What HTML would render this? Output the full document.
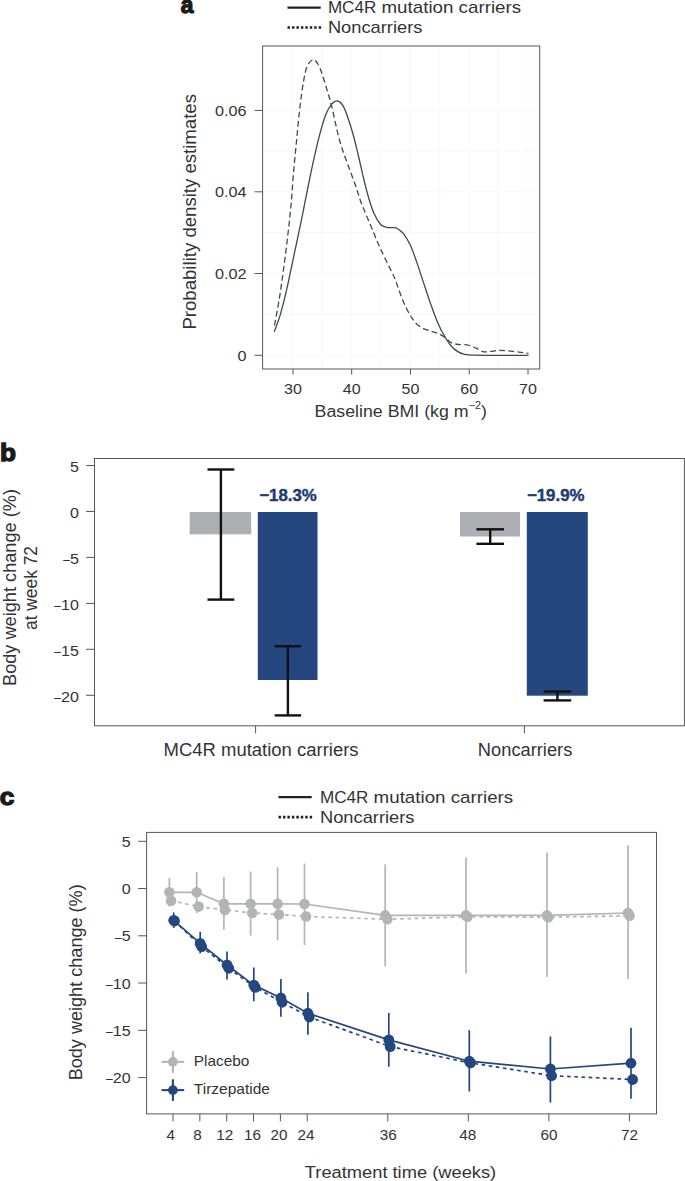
<!DOCTYPE html>
<html lang="en">
<head>
<meta charset="utf-8">
<title>Figure</title>
<style>
html,body{margin:0;padding:0;background:#ffffff;}
body{width:685px;height:1181px;overflow:hidden;font-family:"Liberation Sans",sans-serif;}
svg{display:block;}
svg text{font-family:"Liberation Sans",sans-serif;}
</style>
</head>
<body>
<svg width="685" height="1181" viewBox="0 0 685 1181">
<rect x="0" y="0" width="685" height="1181" fill="#ffffff"/>
<text transform="translate(180.7,13.4) scale(0.93,1)" font-size="24.5" font-weight="bold" fill="#1a1a1a" stroke="#1a1a1a" stroke-width="1.3" stroke-linejoin="miter">a</text>
<text transform="translate(0.0,460.6) scale(1.07,1)" font-size="24.5" font-weight="bold" fill="#1a1a1a" stroke="#1a1a1a" stroke-width="1.3" stroke-linejoin="miter">b</text>
<text transform="translate(-0.3,805.2) scale(1.07,1)" font-size="24.5" font-weight="bold" fill="#1a1a1a" stroke="#1a1a1a" stroke-width="1.3" stroke-linejoin="miter">c</text>
<line x1="287.5" y1="7.6" x2="320.7" y2="7.6" stroke="#222" stroke-width="2.4"/>
<line x1="287.5" y1="27.5" x2="321.2" y2="27.5" stroke="#222" stroke-width="2.6" stroke-dasharray="2.5 1.95"/>
<text x="327.9" y="12.6" font-size="17" text-anchor="start" font-weight="normal" fill="#333333" textLength="48.4" lengthAdjust="spacingAndGlyphs">MC4R</text>
<text x="381.5" y="12.6" font-size="17" text-anchor="start" font-weight="normal" fill="#333333" textLength="139.6" lengthAdjust="spacingAndGlyphs">mutation carriers</text>
<text x="327.9" y="33.0" font-size="17" text-anchor="start" font-weight="normal" fill="#333333" textLength="94.5" lengthAdjust="spacingAndGlyphs">Noncarriers</text>
<line x1="278.5" y1="797.1" x2="311.7" y2="797.1" stroke="#222" stroke-width="2.4"/>
<line x1="278.5" y1="817.1" x2="312.2" y2="817.1" stroke="#222" stroke-width="2.6" stroke-dasharray="2.5 1.95"/>
<text x="320.0" y="802.8" font-size="17" text-anchor="start" font-weight="normal" fill="#333333" textLength="48.4" lengthAdjust="spacingAndGlyphs">MC4R</text>
<text x="373.6" y="802.8" font-size="17" text-anchor="start" font-weight="normal" fill="#333333" textLength="139.6" lengthAdjust="spacingAndGlyphs">mutation carriers</text>
<text x="320.0" y="822.9" font-size="17" text-anchor="start" font-weight="normal" fill="#333333" textLength="94.5" lengthAdjust="spacingAndGlyphs">Noncarriers</text>
<rect x="262.6" y="46" width="277.1" height="323" fill="none" stroke="#575757" stroke-width="1"/>
<line x1="263.6" y1="110.4" x2="538.7" y2="110.4" stroke="#f7f7f7" stroke-width="1"/>
<line x1="263.6" y1="151.1" x2="538.7" y2="151.1" stroke="#f7f7f7" stroke-width="1"/>
<line x1="263.6" y1="191.8" x2="538.7" y2="191.8" stroke="#f7f7f7" stroke-width="1"/>
<line x1="263.6" y1="232.6" x2="538.7" y2="232.6" stroke="#f7f7f7" stroke-width="1"/>
<line x1="263.6" y1="273.5" x2="538.7" y2="273.5" stroke="#f7f7f7" stroke-width="1"/>
<line x1="263.6" y1="314.4" x2="538.7" y2="314.4" stroke="#f7f7f7" stroke-width="1"/>
<line x1="263.6" y1="355.3" x2="538.7" y2="355.3" stroke="#f7f7f7" stroke-width="1"/>
<line x1="293.0" y1="47" x2="293.0" y2="368" stroke="#f7f7f7" stroke-width="1"/>
<line x1="322.4" y1="47" x2="322.4" y2="368" stroke="#f7f7f7" stroke-width="1"/>
<line x1="351.7" y1="47" x2="351.7" y2="368" stroke="#f7f7f7" stroke-width="1"/>
<line x1="381.1" y1="47" x2="381.1" y2="368" stroke="#f7f7f7" stroke-width="1"/>
<line x1="410.5" y1="47" x2="410.5" y2="368" stroke="#f7f7f7" stroke-width="1"/>
<line x1="439.8" y1="47" x2="439.8" y2="368" stroke="#f7f7f7" stroke-width="1"/>
<line x1="469.2" y1="47" x2="469.2" y2="368" stroke="#f7f7f7" stroke-width="1"/>
<line x1="498.6" y1="47" x2="498.6" y2="368" stroke="#f7f7f7" stroke-width="1"/>
<line x1="528.0" y1="47" x2="528.0" y2="368" stroke="#f7f7f7" stroke-width="1"/>
<line x1="254.60000000000002" y1="110.4" x2="262.6" y2="110.4" stroke="#575757" stroke-width="1"/>
<text transform="translate(246.60000000000002,115.85) scale(1.06,1)" font-size="15.3" text-anchor="end" font-weight="normal" fill="#333333">0.06</text>
<line x1="254.60000000000002" y1="191.8" x2="262.6" y2="191.8" stroke="#575757" stroke-width="1"/>
<text transform="translate(246.60000000000002,197.25) scale(1.06,1)" font-size="15.3" text-anchor="end" font-weight="normal" fill="#333333">0.04</text>
<line x1="254.60000000000002" y1="273.5" x2="262.6" y2="273.5" stroke="#575757" stroke-width="1"/>
<text transform="translate(246.60000000000002,278.95) scale(1.06,1)" font-size="15.3" text-anchor="end" font-weight="normal" fill="#333333">0.02</text>
<line x1="254.60000000000002" y1="355.3" x2="262.6" y2="355.3" stroke="#575757" stroke-width="1"/>
<text transform="translate(246.60000000000002,360.75) scale(1.06,1)" font-size="15.3" text-anchor="end" font-weight="normal" fill="#333333">0</text>
<line x1="293.0" y1="369" x2="293.0" y2="374.6" stroke="#575757" stroke-width="1"/>
<text transform="translate(293.0,393.8) scale(1.05,1)" font-size="15.3" text-anchor="middle" font-weight="normal" fill="#333333">30</text>
<line x1="351.7" y1="369" x2="351.7" y2="374.6" stroke="#575757" stroke-width="1"/>
<text transform="translate(351.7,393.8) scale(1.05,1)" font-size="15.3" text-anchor="middle" font-weight="normal" fill="#333333">40</text>
<line x1="410.5" y1="369" x2="410.5" y2="374.6" stroke="#575757" stroke-width="1"/>
<text transform="translate(410.5,393.8) scale(1.05,1)" font-size="15.3" text-anchor="middle" font-weight="normal" fill="#333333">50</text>
<line x1="469.2" y1="369" x2="469.2" y2="374.6" stroke="#575757" stroke-width="1"/>
<text transform="translate(469.2,393.8) scale(1.05,1)" font-size="15.3" text-anchor="middle" font-weight="normal" fill="#333333">60</text>
<line x1="528.0" y1="369" x2="528.0" y2="374.6" stroke="#575757" stroke-width="1"/>
<text transform="translate(528.0,393.8) scale(1.05,1)" font-size="15.3" text-anchor="middle" font-weight="normal" fill="#333333">70</text>
<text x="314.6" y="417" font-size="17.2" fill="#333333" textLength="172.3" lengthAdjust="spacingAndGlyphs">Baseline BMI (kg m<tspan font-size="10.5" dy="-8.3">−2</tspan><tspan dy="8.3">)</tspan></text>
<text transform="translate(195.7,211.8) rotate(-90)" font-size="18" text-anchor="middle" fill="#333333" textLength="235.5" lengthAdjust="spacingAndGlyphs">Probability density estimates</text>
<path d="M274.3,331.8 C275.3,328.9 278.3,321.4 280.4,314.4 C282.4,307.4 284.6,298.8 286.6,289.9 C288.7,281.0 290.7,270.8 292.7,261.3 C294.7,251.8 297.0,241.3 298.8,232.7 C300.6,224.1 302.0,217.2 303.5,209.6 C305.0,202.0 306.3,195.4 308.0,187.2 C309.7,179.0 311.6,169.1 313.5,160.6 C315.4,152.1 317.3,143.6 319.3,136.1 C321.3,128.6 323.4,120.9 325.4,115.6 C327.4,110.3 329.5,106.9 331.5,104.4 C333.5,102.0 335.4,100.7 337.3,100.9 C339.2,101.1 341.0,102.6 342.8,105.4 C344.6,108.2 346.2,112.9 347.9,117.7 C349.6,122.5 351.3,127.9 353.0,134.0 C354.7,140.1 356.2,146.7 358.1,154.5 C360.0,162.3 362.3,173.4 364.2,181.0 C366.1,188.6 367.6,194.4 369.3,200.0 C371.0,205.6 372.5,210.2 374.4,214.3 C376.3,218.4 378.6,222.3 380.6,224.5 C382.7,226.7 384.7,226.9 386.7,227.4 C388.7,227.9 391.1,227.4 392.8,227.6 C394.5,227.8 395.0,227.2 396.8,228.3 C398.6,229.4 401.3,231.1 403.6,233.9 C405.9,236.7 408.1,240.4 410.4,245.3 C412.7,250.2 414.9,257.0 417.2,263.4 C419.4,269.8 421.6,276.9 423.9,283.7 C426.1,290.5 428.4,297.7 430.7,304.1 C433.0,310.5 435.2,316.9 437.5,322.2 C439.8,327.5 442.0,331.8 444.3,335.8 C446.6,339.8 448.8,343.4 451.1,346.0 C453.4,348.6 455.6,350.2 457.9,351.6 C460.2,353.0 462.1,353.7 464.7,354.3 C467.3,354.9 467.8,355.0 473.7,355.2 C479.6,355.4 490.9,355.3 500.0,355.3 C509.1,355.3 523.8,355.3 528.5,355.3" fill="none" stroke="#41474e" stroke-width="1.3"/>
<path d="M274.5,325.5 C275.3,320.9 277.9,307.4 279.4,298.1 C280.9,288.8 282.1,279.7 283.5,269.5 C284.9,259.3 286.4,247.6 287.6,236.8 C288.9,226.1 290.0,216.0 291.0,205.0 C292.0,194.0 292.7,182.0 293.7,170.8 C294.7,159.7 295.8,148.7 296.8,138.1 C297.8,127.5 298.8,116.6 299.9,107.4 C301.0,98.2 302.1,89.7 303.3,82.9 C304.5,76.1 305.4,70.4 307.0,66.6 C308.6,62.7 311.2,60.1 313.1,59.8 C315.0,59.4 316.7,62.0 318.2,64.5 C319.7,67.0 320.8,70.3 322.3,74.7 C323.8,79.1 325.9,86.0 327.4,91.1 C328.9,96.2 330.1,100.0 331.5,105.4 C332.9,110.9 334.1,117.3 335.6,123.8 C337.1,130.3 338.6,137.4 340.7,144.2 C342.8,151.0 345.3,157.5 347.9,164.7 C350.5,171.9 354.0,181.1 356.1,187.2 C358.2,193.3 359.0,196.7 360.6,201.2 C362.2,205.7 364.0,209.7 365.9,214.2 C367.8,218.7 369.9,223.7 371.9,228.4 C373.9,233.2 375.8,238.1 377.8,242.7 C379.8,247.2 381.7,251.5 383.7,255.7 C385.7,259.9 387.8,264.0 389.6,267.6 C391.4,271.2 393.0,274.3 394.4,277.5 C395.8,280.7 396.5,283.2 397.9,287.0 C399.3,290.8 401.1,296.3 402.7,300.2 C404.3,304.1 405.8,307.2 407.4,310.2 C409.0,313.2 410.5,316.0 412.1,318.3 C413.7,320.6 414.9,322.4 416.9,324.2 C418.9,325.9 421.6,327.6 424.0,328.8 C426.4,330.0 428.9,330.5 431.1,331.2 C433.4,331.9 435.3,332.2 437.5,333.2 C439.7,334.1 442.0,335.3 444.3,336.9 C446.6,338.5 448.8,341.4 451.1,342.6 C453.4,343.9 455.3,344.0 457.9,344.4 C460.5,344.8 463.9,344.2 466.9,344.8 C469.9,345.4 473.4,347.1 476.0,348.2 C478.6,349.3 480.5,351.0 482.8,351.6 C485.1,352.2 487.0,351.8 489.6,351.6 C492.2,351.4 495.6,350.6 498.6,350.5 C501.6,350.4 504.3,350.6 507.7,350.9 C511.1,351.2 515.5,351.7 519.0,352.1 C522.5,352.5 526.9,353.2 528.5,353.4" fill="none" stroke="#41474e" stroke-width="1.3" stroke-dasharray="5.8 3.3"/>
<rect x="94.5" y="458.5" width="589.9" height="267.29999999999995" fill="none" stroke="#575757" stroke-width="1"/>
<line x1="86.1" y1="465.5" x2="94.5" y2="465.5" stroke="#575757" stroke-width="1"/>
<text transform="translate(78.9,471.8) scale(1.05,1)" font-size="15.3" text-anchor="end" font-weight="normal" fill="#333333">5</text>
<line x1="86.1" y1="511.5" x2="94.5" y2="511.5" stroke="#575757" stroke-width="1"/>
<text transform="translate(78.9,517.8) scale(1.05,1)" font-size="15.3" text-anchor="end" font-weight="normal" fill="#333333">0</text>
<line x1="86.1" y1="557.4" x2="94.5" y2="557.4" stroke="#575757" stroke-width="1"/>
<text transform="translate(78.9,563.7) scale(1.05,1)" font-size="15.3" text-anchor="end" font-weight="normal" fill="#333333"><tspan font-size="13.2" dy="1.3">−</tspan><tspan dy="-1.3" dx="-0.6">5</tspan></text>
<line x1="86.1" y1="603.4" x2="94.5" y2="603.4" stroke="#575757" stroke-width="1"/>
<text transform="translate(78.9,609.7) scale(1.05,1)" font-size="15.3" text-anchor="end" font-weight="normal" fill="#333333"><tspan font-size="13.2" dy="1.3">−</tspan><tspan dy="-1.3" dx="-0.6">10</tspan></text>
<line x1="86.1" y1="649.3" x2="94.5" y2="649.3" stroke="#575757" stroke-width="1"/>
<text transform="translate(78.9,655.6) scale(1.05,1)" font-size="15.3" text-anchor="end" font-weight="normal" fill="#333333"><tspan font-size="13.2" dy="1.3">−</tspan><tspan dy="-1.3" dx="-0.6">15</tspan></text>
<line x1="86.1" y1="695.3" x2="94.5" y2="695.3" stroke="#575757" stroke-width="1"/>
<text transform="translate(78.9,701.6) scale(1.05,1)" font-size="15.3" text-anchor="end" font-weight="normal" fill="#333333"><tspan font-size="13.2" dy="1.3">−</tspan><tspan dy="-1.3" dx="-0.6">20</tspan></text>
<line x1="255.6" y1="725.8" x2="255.6" y2="733.3" stroke="#575757" stroke-width="1"/>
<text x="163.6" y="756.4" font-size="17.5" text-anchor="start" font-weight="normal" fill="#333333" textLength="195" lengthAdjust="spacingAndGlyphs">MC4R mutation carriers</text>
<line x1="524.4" y1="725.8" x2="524.4" y2="733.3" stroke="#575757" stroke-width="1"/>
<text x="477.84999999999997" y="756.4" font-size="17.5" text-anchor="start" font-weight="normal" fill="#333333" textLength="94.5" lengthAdjust="spacingAndGlyphs">Noncarriers</text>
<text transform="translate(15.8,587.5) rotate(-90)" font-size="17.5" text-anchor="middle" fill="#333333" textLength="197" lengthAdjust="spacingAndGlyphs">Body weight change (%)</text>
<text transform="translate(36.6,588) rotate(-90)" font-size="17.5" text-anchor="middle" fill="#333333" textLength="84" lengthAdjust="spacingAndGlyphs">at week 72</text>
<rect x="189.7" y="512" width="61.5" height="22.3" fill="#adafb4"/>
<rect x="257.8" y="512" width="59.7" height="168" fill="#24477f"/>
<line x1="220.9" y1="469.5" x2="220.9" y2="599.6" stroke="#111" stroke-width="2.4"/>
<line x1="207.5" y1="469.5" x2="234.3" y2="469.5" stroke="#111" stroke-width="2.4"/>
<line x1="207.5" y1="599.6" x2="234.3" y2="599.6" stroke="#111" stroke-width="2.4"/>
<line x1="287.9" y1="646.2" x2="287.9" y2="715.4" stroke="#111" stroke-width="2.4"/>
<line x1="274.7" y1="646.2" x2="301.09999999999997" y2="646.2" stroke="#111" stroke-width="2.4"/>
<line x1="274.7" y1="715.4" x2="301.09999999999997" y2="715.4" stroke="#111" stroke-width="2.4"/>
<text x="259.2" y="500.7" font-size="17.3" text-anchor="start" font-weight="bold" fill="#1f3b73" textLength="57.6" lengthAdjust="spacingAndGlyphs" stroke="#1f3b73" stroke-width="0.45">−18.3%</text>
<rect x="460" y="512" width="60" height="24.5" fill="#adafb4"/>
<rect x="526.8" y="512" width="61" height="183.7" fill="#24477f"/>
<line x1="490.2" y1="529.3" x2="490.2" y2="543.8" stroke="#111" stroke-width="2.4"/>
<line x1="476.4" y1="529.3" x2="504.0" y2="529.3" stroke="#111" stroke-width="2.4"/>
<line x1="476.4" y1="543.8" x2="504.0" y2="543.8" stroke="#111" stroke-width="2.4"/>
<line x1="557.4" y1="691.5" x2="557.4" y2="700.4" stroke="#111" stroke-width="2.4"/>
<line x1="543.6" y1="691.5" x2="571.1999999999999" y2="691.5" stroke="#111" stroke-width="2.4"/>
<line x1="543.6" y1="700.4" x2="571.1999999999999" y2="700.4" stroke="#111" stroke-width="2.4"/>
<text x="526.9" y="501.0" font-size="17.3" text-anchor="start" font-weight="bold" fill="#1f3b73" textLength="57.6" lengthAdjust="spacingAndGlyphs" stroke="#1f3b73" stroke-width="0.45">−19.9%</text>
<rect x="146.6" y="832.4" width="509.9" height="281.5000000000001" fill="none" stroke="#575757" stroke-width="1"/>
<line x1="138.2" y1="841.3" x2="146.6" y2="841.3" stroke="#575757" stroke-width="1"/>
<text transform="translate(130.6,846.8) scale(1.05,1)" font-size="15.3" text-anchor="end" font-weight="normal" fill="#333333">5</text>
<line x1="138.2" y1="888.5" x2="146.6" y2="888.5" stroke="#575757" stroke-width="1"/>
<text transform="translate(130.6,894.0) scale(1.05,1)" font-size="15.3" text-anchor="end" font-weight="normal" fill="#333333">0</text>
<line x1="138.2" y1="935.8" x2="146.6" y2="935.8" stroke="#575757" stroke-width="1"/>
<text transform="translate(130.6,941.3) scale(1.05,1)" font-size="15.3" text-anchor="end" font-weight="normal" fill="#333333"><tspan font-size="13.2" dy="1.3">−</tspan><tspan dy="-1.3" dx="-0.6">5</tspan></text>
<line x1="138.2" y1="983.0" x2="146.6" y2="983.0" stroke="#575757" stroke-width="1"/>
<text transform="translate(130.6,988.5) scale(1.05,1)" font-size="15.3" text-anchor="end" font-weight="normal" fill="#333333"><tspan font-size="13.2" dy="1.3">−</tspan><tspan dy="-1.3" dx="-0.6">10</tspan></text>
<line x1="138.2" y1="1030.3" x2="146.6" y2="1030.3" stroke="#575757" stroke-width="1"/>
<text transform="translate(130.6,1035.8) scale(1.05,1)" font-size="15.3" text-anchor="end" font-weight="normal" fill="#333333"><tspan font-size="13.2" dy="1.3">−</tspan><tspan dy="-1.3" dx="-0.6">15</tspan></text>
<line x1="138.2" y1="1077.6" x2="146.6" y2="1077.6" stroke="#575757" stroke-width="1"/>
<text transform="translate(130.6,1083.1) scale(1.05,1)" font-size="15.3" text-anchor="end" font-weight="normal" fill="#333333"><tspan font-size="13.2" dy="1.3">−</tspan><tspan dy="-1.3" dx="-0.6">20</tspan></text>
<line x1="173.0" y1="1113.9" x2="173.0" y2="1121.4" stroke="#575757" stroke-width="1"/>
<text x="170.8" y="1139.6" font-size="15.3" text-anchor="middle" font-weight="normal" fill="#333333">4</text>
<line x1="199.848" y1="1113.9" x2="199.848" y2="1121.4" stroke="#575757" stroke-width="1"/>
<text x="197.6" y="1139.6" font-size="15.3" text-anchor="middle" font-weight="normal" fill="#333333">8</text>
<line x1="226.696" y1="1113.9" x2="226.696" y2="1121.4" stroke="#575757" stroke-width="1"/>
<text x="224.7" y="1139.6" font-size="15.3" text-anchor="middle" font-weight="normal" fill="#333333">12</text>
<line x1="253.54399999999998" y1="1113.9" x2="253.54399999999998" y2="1121.4" stroke="#575757" stroke-width="1"/>
<text x="252.6" y="1139.6" font-size="15.3" text-anchor="middle" font-weight="normal" fill="#333333">16</text>
<line x1="280.392" y1="1113.9" x2="280.392" y2="1121.4" stroke="#575757" stroke-width="1"/>
<text x="278.9" y="1139.6" font-size="15.3" text-anchor="middle" font-weight="normal" fill="#333333">20</text>
<line x1="307.24" y1="1113.9" x2="307.24" y2="1121.4" stroke="#575757" stroke-width="1"/>
<text x="306.0" y="1139.6" font-size="15.3" text-anchor="middle" font-weight="normal" fill="#333333">24</text>
<line x1="387.784" y1="1113.9" x2="387.784" y2="1121.4" stroke="#575757" stroke-width="1"/>
<text x="388.3" y="1139.6" font-size="15.3" text-anchor="middle" font-weight="normal" fill="#333333">36</text>
<line x1="468.328" y1="1113.9" x2="468.328" y2="1121.4" stroke="#575757" stroke-width="1"/>
<text x="467.8" y="1139.6" font-size="15.3" text-anchor="middle" font-weight="normal" fill="#333333">48</text>
<line x1="548.872" y1="1113.9" x2="548.872" y2="1121.4" stroke="#575757" stroke-width="1"/>
<text x="548.9" y="1139.6" font-size="15.3" text-anchor="middle" font-weight="normal" fill="#333333">60</text>
<line x1="629.4159999999999" y1="1113.9" x2="629.4159999999999" y2="1121.4" stroke="#575757" stroke-width="1"/>
<text x="629.4" y="1139.6" font-size="15.3" text-anchor="middle" font-weight="normal" fill="#333333">72</text>
<text x="304.8" y="1177.8" font-size="17.3" text-anchor="start" font-weight="normal" fill="#333333" textLength="191.4" lengthAdjust="spacingAndGlyphs">Treatment time (weeks)</text>
<text transform="translate(82.0,982.3) rotate(-90)" font-size="17.5" text-anchor="middle" fill="#333333" textLength="196" lengthAdjust="spacingAndGlyphs">Body weight change (%)</text>
<path d="M171,900.7 L198.6,906.6 L224.9,909.9 L252.2,913 L279,914.5 L306,916.5 L387.4,919.3 L467.5,916.7 L548.3,917.2 L629.6,915.8" fill="none" stroke="#b3b4b8" stroke-width="1.7" stroke-dasharray="3.6 3.6"/>
<circle cx="171" cy="900.7" r="5.3" fill="#b3b4b8"/>
<circle cx="198.6" cy="906.6" r="5.3" fill="#b3b4b8"/>
<circle cx="224.9" cy="909.9" r="5.3" fill="#b3b4b8"/>
<circle cx="252.2" cy="913" r="5.3" fill="#b3b4b8"/>
<circle cx="279" cy="914.5" r="5.3" fill="#b3b4b8"/>
<circle cx="306" cy="916.5" r="5.3" fill="#b3b4b8"/>
<circle cx="387.4" cy="919.3" r="5.3" fill="#b3b4b8"/>
<circle cx="467.5" cy="916.7" r="5.3" fill="#b3b4b8"/>
<circle cx="548.3" cy="917.2" r="5.3" fill="#b3b4b8"/>
<circle cx="629.6" cy="915.8" r="5.3" fill="#b3b4b8"/>
<path d="M169.4,892.3 L196.7,892.3 L223.9,903.8 L250.6,903.8 L277.6,903.8 L304.5,904 L385.2,915.4 L466,915.4 L547,915.4 L628,913" fill="none" stroke="#b3b4b8" stroke-width="1.7"/>
<line x1="169.4" y1="878.1" x2="169.4" y2="906.5" stroke="#b3b4b8" stroke-width="1.7"/>
<line x1="196.7" y1="872.1" x2="196.7" y2="913" stroke="#b3b4b8" stroke-width="1.7"/>
<line x1="223.9" y1="877.1" x2="223.9" y2="929.7" stroke="#b3b4b8" stroke-width="1.7"/>
<line x1="250.6" y1="871.5" x2="250.6" y2="935.6" stroke="#b3b4b8" stroke-width="1.7"/>
<line x1="277.6" y1="867.3" x2="277.6" y2="940.4" stroke="#b3b4b8" stroke-width="1.7"/>
<line x1="304.5" y1="863.6" x2="304.5" y2="945" stroke="#b3b4b8" stroke-width="1.7"/>
<line x1="385.2" y1="864.4" x2="385.2" y2="966.4" stroke="#b3b4b8" stroke-width="1.7"/>
<line x1="466" y1="857.4" x2="466" y2="973.4" stroke="#b3b4b8" stroke-width="1.7"/>
<line x1="547" y1="852.6" x2="547" y2="977.1" stroke="#b3b4b8" stroke-width="1.7"/>
<line x1="628" y1="845.3" x2="628" y2="978.9" stroke="#b3b4b8" stroke-width="1.7"/>
<circle cx="169.4" cy="892.3" r="5.3" fill="#b3b4b8"/>
<circle cx="196.7" cy="892.3" r="5.3" fill="#b3b4b8"/>
<circle cx="223.9" cy="903.8" r="5.3" fill="#b3b4b8"/>
<circle cx="250.6" cy="903.8" r="5.3" fill="#b3b4b8"/>
<circle cx="277.6" cy="903.8" r="5.3" fill="#b3b4b8"/>
<circle cx="304.5" cy="904" r="5.3" fill="#b3b4b8"/>
<circle cx="385.2" cy="915.4" r="5.3" fill="#b3b4b8"/>
<circle cx="466" cy="915.4" r="5.3" fill="#b3b4b8"/>
<circle cx="547" cy="915.4" r="5.3" fill="#b3b4b8"/>
<circle cx="628" cy="913" r="5.3" fill="#b3b4b8"/>
<path d="M174.5,921 L201.7,946.7 L228.8,968.3 L255.3,987.4 L282.1,1002.3 L309.3,1017 L390.2,1046.6 L470.5,1062.9 L551.6,1075.7 L632.6,1079.5" fill="none" stroke="#24477f" stroke-width="1.7" stroke-dasharray="3.6 3.6"/>
<circle cx="174.5" cy="921" r="5.4" fill="#24477f"/>
<circle cx="201.7" cy="946.7" r="5.4" fill="#24477f"/>
<circle cx="228.8" cy="968.3" r="5.4" fill="#24477f"/>
<circle cx="255.3" cy="987.4" r="5.4" fill="#24477f"/>
<circle cx="282.1" cy="1002.3" r="5.4" fill="#24477f"/>
<circle cx="309.3" cy="1017" r="5.4" fill="#24477f"/>
<circle cx="390.2" cy="1046.6" r="5.4" fill="#24477f"/>
<circle cx="470.5" cy="1062.9" r="5.4" fill="#24477f"/>
<circle cx="551.6" cy="1075.7" r="5.4" fill="#24477f"/>
<circle cx="632.6" cy="1079.5" r="5.4" fill="#24477f"/>
<path d="M173.7,920.3 L200.2,943.4 L227,965 L253.8,985.1 L280.9,998 L307.9,1013.2 L388.8,1039.9 L469.3,1061.2 L550.4,1069 L631,1063.2" fill="none" stroke="#24477f" stroke-width="1.7"/>
<line x1="173.7" y1="912.5" x2="173.7" y2="927.9" stroke="#24477f" stroke-width="1.7"/>
<line x1="200.2" y1="931.8" x2="200.2" y2="953.4" stroke="#24477f" stroke-width="1.7"/>
<line x1="227" y1="951.6" x2="227" y2="979.4" stroke="#24477f" stroke-width="1.7"/>
<line x1="253.8" y1="967.5" x2="253.8" y2="1001.3" stroke="#24477f" stroke-width="1.7"/>
<line x1="280.9" y1="978.9" x2="280.9" y2="1016.7" stroke="#24477f" stroke-width="1.7"/>
<line x1="307.9" y1="992.3" x2="307.9" y2="1034.7" stroke="#24477f" stroke-width="1.7"/>
<line x1="388.8" y1="1013" x2="388.8" y2="1066.7" stroke="#24477f" stroke-width="1.7"/>
<line x1="469.3" y1="1030.2" x2="469.3" y2="1091.5" stroke="#24477f" stroke-width="1.7"/>
<line x1="550.4" y1="1036.5" x2="550.4" y2="1102.5" stroke="#24477f" stroke-width="1.7"/>
<line x1="631" y1="1027.8" x2="631" y2="1098.7" stroke="#24477f" stroke-width="1.7"/>
<circle cx="173.7" cy="920.3" r="5.4" fill="#24477f"/>
<circle cx="200.2" cy="943.4" r="5.4" fill="#24477f"/>
<circle cx="227" cy="965" r="5.4" fill="#24477f"/>
<circle cx="253.8" cy="985.1" r="5.4" fill="#24477f"/>
<circle cx="280.9" cy="998" r="5.4" fill="#24477f"/>
<circle cx="307.9" cy="1013.2" r="5.4" fill="#24477f"/>
<circle cx="388.8" cy="1039.9" r="5.4" fill="#24477f"/>
<circle cx="469.3" cy="1061.2" r="5.4" fill="#24477f"/>
<circle cx="550.4" cy="1069" r="5.4" fill="#24477f"/>
<circle cx="631" cy="1063.2" r="5.4" fill="#24477f"/>
<line x1="161.6" y1="1061.9" x2="184.2" y2="1061.9" stroke="#b3b4b8" stroke-width="2.1"/>
<line x1="172.9" y1="1051.1000000000001" x2="172.9" y2="1072.7" stroke="#b3b4b8" stroke-width="2.1"/>
<circle cx="172.9" cy="1061.9" r="4.9" fill="#b3b4b8"/>
<text x="193.8" y="1065.8" font-size="15" text-anchor="start" font-weight="normal" fill="#333333" textLength="55.6" lengthAdjust="spacingAndGlyphs">Placebo</text>
<line x1="161.6" y1="1090.1" x2="184.2" y2="1090.1" stroke="#24477f" stroke-width="2.1"/>
<line x1="172.9" y1="1079.3" x2="172.9" y2="1100.8999999999999" stroke="#24477f" stroke-width="2.1"/>
<circle cx="172.9" cy="1090.1" r="4.9" fill="#24477f"/>
<text x="193.8" y="1094.0" font-size="15" text-anchor="start" font-weight="normal" fill="#333333" textLength="76.2" lengthAdjust="spacingAndGlyphs">Tirzepatide</text>
</svg>
</body>
</html>
